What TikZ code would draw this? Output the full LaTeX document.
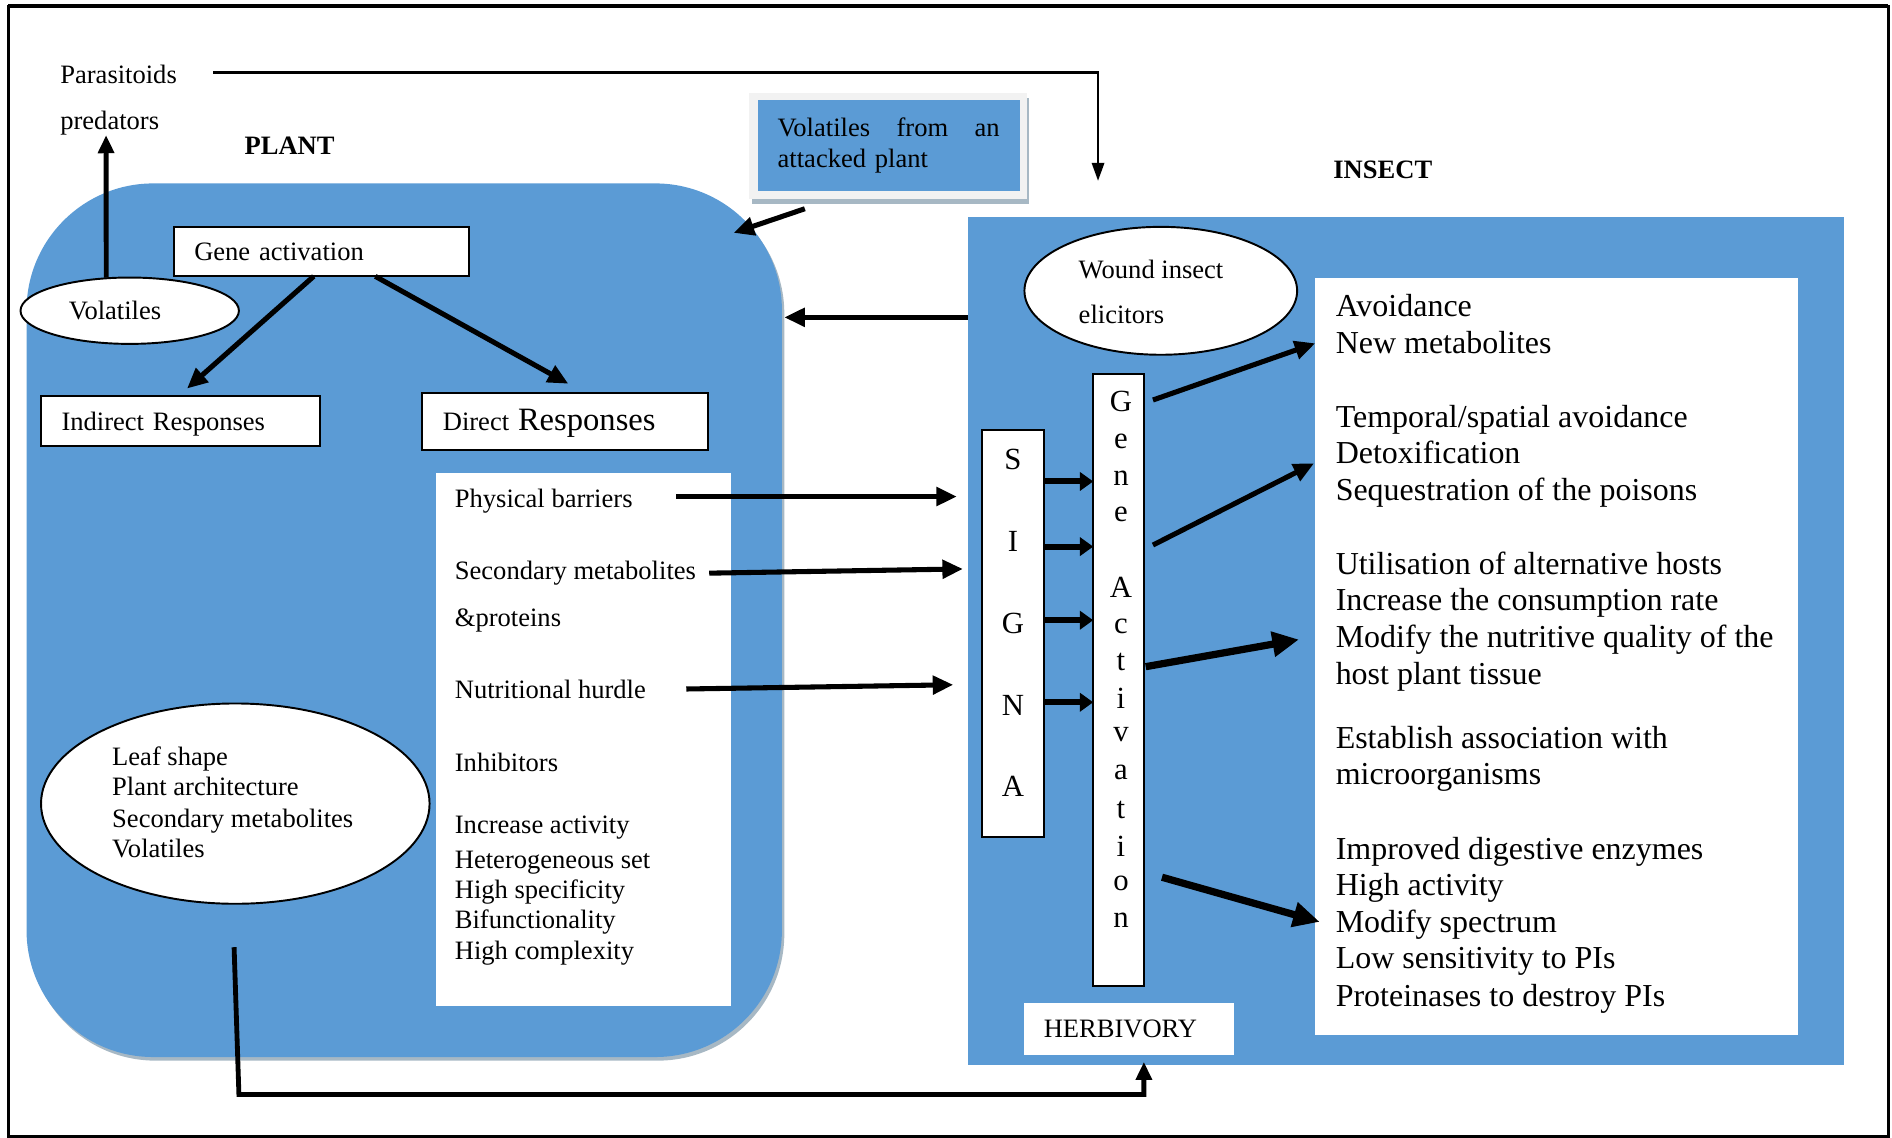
\documentclass[tikz,border=0pt]{standalone}
\usepackage{fontspec}
\setmainfont{Liberation Serif}
\usetikzlibrary{arrows.meta,shapes.geometric}
\definecolor{plantblue}{HTML}{5B9BD5}
\definecolor{shadowgray}{HTML}{A7B8C4}
\definecolor{framewhite}{HTML}{F2F2F2}

\begin{document}
\begin{tikzpicture}[x=1pt,y=-1pt,
  every node/.style={inner sep=0pt, outer sep=0pt},
  fs/.style={font=\fontsize{22}{25.5}\selectfont},
  fl/.style={font=\fontsize{26.5}{30.5}\selectfont},
  fletter/.style={font=\fontsize{25.5}{30}\selectfont},
  tsm/.style={fs, anchor=west, text height=15pt, text depth=0pt},
  tlg/.style={fl, anchor=west, text height=18pt, text depth=0pt},
  wbox/.style={draw, fill=white, line width=1.6pt, fs, align=left, text height=15pt, text depth=-1pt},
  oval/.style={ellipse, draw, fill=white, line width=1.6pt},
  arr/.style={line width=4.2pt, -{Triangle[length=17pt,width=15pt]}},
  fat/.style={line width=6pt, -{Triangle[length=22pt,width=20pt]}},
  sarr/.style={line width=5pt, -{Triangle[length=11pt,width=15pt]}},
  harr/.style={line width=4pt, -{Triangle[length=15pt,width=13pt]}},
  tarr/.style={line width=2.4pt, -{Triangle[length=15pt,width=10pt]}},
]
\useasboundingbox (0,0) rectangle (1568,943);

% outer frame
\draw[line width=2pt] (7,5) rectangle (1565,942);
\draw[line width=3.5pt] (7,5) -- (1565,5);

% plant compartment
\fill[shadowgray, rounded corners=105pt] (24,155) rectangle (650,879);
\node[fill=plantblue, rounded corners=105pt, minimum width=626pt, minimum height=724pt] (plant) at (335,514) {};

% insect compartment
\node[fill=plantblue, minimum width=726pt, minimum height=703pt] (insect) at (1165,531.5) {};

% volatiles released by an attacked plant
\fill[shadowgray] (623,81) rectangle (853,169);
\fill[framewhite] (621,77) rectangle (851,165);
\node[fill=plantblue, fs, minimum width=217pt, minimum height=75pt, text width=184pt,
      inner xsep=16.5pt, align=left] (volbox) at (736.5,120.5)
      {\makebox[184pt][l]{Volatiles\hfill from\hfill an}\\attacked plant};

% headings
\node[font=\fontsize{22}{25.5}\selectfont\bfseries] (planthead) at (240,121) {PLANT};
\node[font=\fontsize{22}{25.5}\selectfont\bfseries] (insecthead) at (1146,141) {INSECT};
\node[tsm] (para) at (50,62) {Parasitoids};
\node[tsm] (pred) at (50,100) {predators};

% plant side boxes
\node[wbox, minimum width=245pt, minimum height=41pt, text width=211pt, inner xsep=17pt]
  (geneact) at (266.5,208.5) {Gene activation};
\node[wbox, minimum width=231pt, minimum height=42pt, text width=197pt, inner xsep=17pt]
  (indirect) at (149.5,349) {Indirect Responses};
\node[wbox, minimum width=237pt, minimum height=47pt, text width=203pt, inner xsep=17pt]
  (direct) at (468.5,349.5) {Direct {\fontsize{27}{30}\selectfont Responses}};
\node[oval, minimum width=181pt, minimum height=55pt] (vol) at (107.5,257.5) {};
\node[tsm] (voltext) at (57,257) {Volatiles};

\node[fill=white, minimum width=245pt, minimum height=442pt] (dlist) at (483.5,613) {};
\foreach \yy/\txt [count=\i] in {413/Physical barriers, 473/Secondary metabolites,
    512/\&proteins, 571/Nutritional hurdle, 632/Inhibitors, 683/Increase activity,
    712/Heterogeneous set, 737/High specificity, 762/Bifunctionality, 788/High complexity}
  \node[tsm] (dl\i) at (377,\yy) {\txt};

\node[oval, minimum width=322pt, minimum height=166pt] (leaf) at (195,666) {};
\foreach \yy/\txt [count=\i] in {627/Leaf shape, 652/Plant architecture,
    678/Secondary metabolites, 703/Volatiles}
  \node[tsm] (lf\i) at (93,\yy) {\txt};

% insect side
\node[oval, minimum width=226pt, minimum height=106pt] (wound) at (962,241) {};
\node[tsm] (wd1) at (894,223) {Wound insect};
\node[tsm] (wd2) at (894,261) {elicitors};

\node[draw, fill=white, line width=1.6pt, minimum width=51pt, minimum height=338pt] (signa) at (839.5,525) {};
\foreach \ch/\yy [count=\i] in {S/381, I/449, G/517, N/585, A/652}
  \node[fletter] (sg\i) at (839.5,\yy) {\ch};

\node[draw, fill=white, line width=1.6pt, minimum width=42pt, minimum height=507pt] (genecol) at (927,563.5) {};
\foreach \ch/\yy [count=\i] in {G/333, e/366, n/396, e/426, A/487, c/519, t/549,
    i/579, v/609, a/640, t/671, i/701, o/732, n/763}
  \node[fletter] (gc\i) at (929,\yy) {\ch};

\node[fill=white, fs, minimum width=174pt, minimum height=43pt, text width=142pt,
      inner xsep=16pt, align=left, text height=15pt, text depth=0pt] (herb) at (936,852.5) {HERBIVORY};

\node[fill=white, minimum width=400pt, minimum height=628pt] (rlist) at (1290,544) {};
\foreach \yy/\txt [count=\i] in {253/Avoidance, 284/New metabolites,
    345/{Temporal/spatial avoidance}, 375/Detoxification, 406/Sequestration of the poisons,
    467/Utilisation of alternative hosts, 497/Increase the consumption rate,
    528/Modify the nutritive quality of the, 558/host plant tissue,
    611/Establish association with, 641/microorganisms,
    703/Improved digestive enzymes, 733/High activity, 764/Modify spectrum,
    794/Low sensitivity to PIs, 825/Proteinases to destroy PIs}
  \node[tlg] (rl\i) at (1107,\yy) {\txt};

% connectors
\coordinate (drop) at (910,150);
\draw[tarr] ([xshift=30pt,yshift=2pt]para.east) -| (drop);
\draw[harr] ([xshift=-19.5pt]vol.north) -- ([xshift=-3pt,yshift=-4.5pt]pred.south);
\draw[arr] ([xshift=-6.5pt]geneact.south) -- ([xshift=5.5pt,yshift=6pt]indirect.north);
\draw[arr] ([xshift=44.5pt]geneact.south) -- ([xshift=2.5pt,yshift=8pt]direct.north);
\draw[arr] ([xshift=-69.5pt,yshift=-15pt]volbox.south) -- ([xshift=-40pt,yshift=-41pt]plant.north east);
\draw[arr] ([yshift=268.5pt]insect.west) -- ([xshift=2pt,yshift=251pt]plant.east);

\draw[arr] ([xshift=36pt,yshift=1.5pt]dl1.east) -- ([xshift=-21pt,yshift=113.5pt]signa.west);
\draw[arr] ([xshift=11pt,yshift=-2pt]dl2.east) -- ([xshift=-16pt,yshift=53.5pt]signa.west);
\draw[arr] ([xshift=33.5pt]dl4.east) -- ([xshift=-24pt,yshift=-42.5pt]signa.west);

\foreach \yy in {399,453,514,582}
  \draw[sarr] (signa.east |- 0,\yy) -- (genecol.west |- 0,\yy);

\draw[arr] ([xshift=7.5pt,yshift=232pt]genecol.east) -- ([yshift=259.5pt]rlist.west);
\draw[arr] ([xshift=7.5pt,yshift=111.8pt]genecol.east) -- ([xshift=-1pt,yshift=160pt]rlist.west);
\draw[fat] ([xshift=1.5pt,yshift=11pt]genecol.east) -- ([xshift=-13.5pt,yshift=14pt]rlist.west);
\draw[fat] ([xshift=15pt,yshift=-163.5pt]genecol.east) -- ([xshift=3.7pt,yshift=-220pt]rlist.west);

\draw[harr] ([xshift=-1pt,yshift=-36pt]leaf.south) -- ++(4,122) -| ([xshift=12pt,yshift=-6pt]herb.south);
\end{tikzpicture}
\end{document}
